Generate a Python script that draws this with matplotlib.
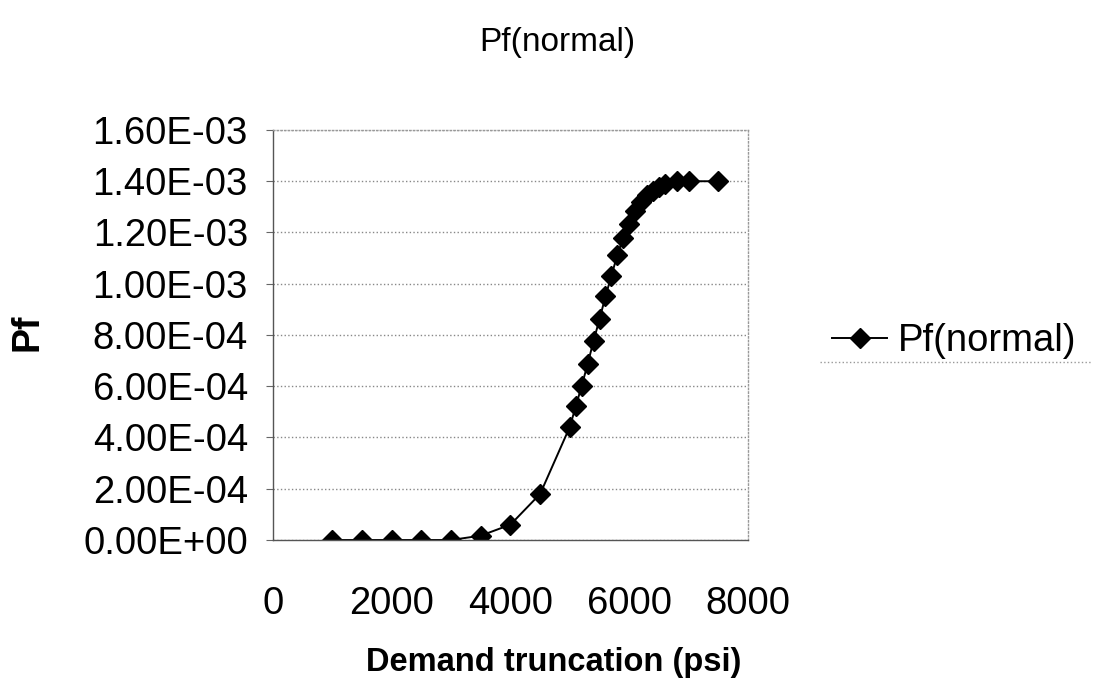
import numpy as np
import matplotlib.pyplot as plt
from matplotlib.lines import Line2D
from matplotlib.ticker import FuncFormatter

plt.rcParams['font.family'] = ['Liberation Sans', 'DejaVu Sans']

# demand truncation (psi) and failure probability
truncation = [1000, 1500, 2000, 2500, 3000, 3500, 4000, 4500, 5000,
              5100, 5200, 5300, 5400, 5500, 5600, 5700, 5800, 5900,
              6000, 6100, 6200, 6300, 6400, 6500, 6600, 6800, 7000, 7500]
pf_normal = [0.0, 0.0, 0.0, 0.0, 0.0, 1.7e-5, 6.0e-5, 1.8e-4, 4.42e-4,
             5.22e-4, 6.02e-4, 6.87e-4, 7.78e-4, 8.62e-4, 9.51e-4, 1.031e-3, 1.113e-3, 1.18e-3,
             1.233e-3, 1.285e-3, 1.32e-3, 1.345e-3, 1.362e-3, 1.378e-3, 1.39e-3, 1.40e-3, 1.40e-3, 1.40e-3]

x_ticks = [0, 2000, 4000, 6000, 8000]
y_ticks = np.arange(0, 1.61e-3, 2e-4)

fig = plt.figure(figsize=(10.95, 6.94), dpi=100)
ax = fig.add_axes([0.2493, 0.2219, 0.4338, 0.5908])

ax.plot(truncation, pf_normal, color='black', lw=1.4, marker='D', markersize=10,
        label='Pf(normal)')

ax.set_xlim(0, 8000)
ax.set_ylim(0, 1.6e-3)
ax.set_xticks(x_ticks)
ax.set_yticks(y_ticks)
ax.yaxis.set_major_formatter(FuncFormatter(lambda v, p: f"{v:.2E}"))
ax.tick_params(axis='x', length=0, pad=33, labelsize=27.5)
ax.tick_params(axis='y', length=5, width=0.8, color='#666666', pad=13, labelsize=27.5)

ax.grid(axis='y', color='#888888', linestyle=':', lw=1.0)
for s in ['left', 'bottom']:
    ax.spines[s].set_color('#555555')
    ax.spines[s].set_linewidth(1.0)
for s in ['top', 'right']:
    ax.spines[s].set_color('#999999')
    ax.spines[s].set_linestyle(':')
    ax.spines[s].set_linewidth(1.0)

fig.text(557 / 1095, 1 - 42 / 694, 'Pf(normal)', ha='center', va='center', fontsize=24)
fig.text(554 / 1095, 1 - 662 / 694, 'Demand truncation (psi)', ha='center', va='center',
         fontsize=23.5, fontweight='bold')
fig.text(28 / 1095, 1 - 332 / 694, 'Pf', ha='center', va='center', rotation=90,
         fontsize=27, fontweight='bold')

fig.legend(loc='center left', bbox_to_anchor=(832 / 1095, 1 - 341 / 694), frameon=False,
           fontsize=27.5, handlelength=1.45, handletextpad=0.27, borderpad=0, borderaxespad=0)
# faint lower edge of the legend box
fig.add_artist(Line2D([820 / 1095, 1092 / 1095], [1 - 362 / 694, 1 - 362 / 694],
                      color='#999999', linestyle=':', lw=1.0))

plt.savefig('out.png', dpi=100)
